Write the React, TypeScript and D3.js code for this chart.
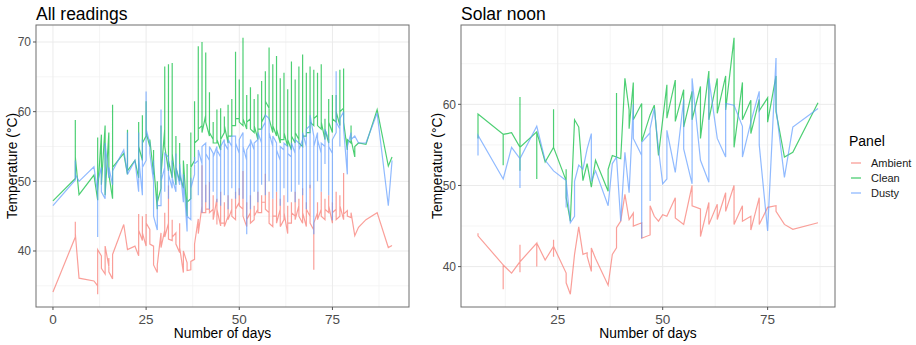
import React from 'react';
import * as d3 from 'd3';

// "All readings" panel: one entry per day, each day can hold several readings
const allDays = [0, 6, 7, 11, 12, 13, 14, 15, 16, 19, 20, 22,
  23, 24, 25, 26, 27, 28, 29, 30, 31, 32,
  33, 34, 35, 36, 37, 38, 39, 40, 41, 42,
  43, 44, 45, 46, 47, 48, 49, 50, 51, 52,
  53, 54, 55, 56, 57, 58, 59, 60, 61, 62,
  63, 64, 65, 66, 67, 68, 69, 70, 71, 72,
  73, 74, 75, 76, 77, 78, 79, 80, 81, 82,
  84, 87, 90, 91];

const allAmbient = [
  [34.1], [42.0, 44.2, 42.5], [36.1], [35.7], [35.0, 33.8, 40.2], [39.3, 37.5], [36.7, 40.7], [37.8, 39.0, 37.0], [36.0, 39.5], [43.8], [40.2], [40.7],
  [39.3, 45.3, 43.0], [41.5, 45.0, 42.6], [40.7, 45.3, 44.0], [43.1, 41.0], [40.7, 38.0], [36.9, 38.0], [42.6, 40.5], [43.0, 45.5, 42.0], [44.0, 49.4, 41.7], [41.5, 44.5, 42.0],
  [42.6, 41.0], [39.8, 44.0, 40.5], [36.9, 40.0], [38.3, 37.2], [37.3, 38.5], [38.8, 41.0], [44.6, 42.5], [46.5, 52.3, 45.5], [45.5, 49.5, 46.0], [46.0, 49.9, 45.5],
  [46.0, 48.0, 44.5], [47.5, 43.8, 46.0], [43.6, 48.5, 44.0], [44.0, 47.0, 43.5], [45.0, 48.0, 44.5], [46.0, 47.5, 45.0], [44.5, 48.5, 46.0], [47.0, 49.0, 46.5], [46.0, 51.5, 45.0], [43.5, 47.0, 44.5],
  [45.5, 48.0, 44.0], [44.5, 46.5, 45.0], [46.0, 48.5, 45.5], [45.5, 48.0, 47.0], [47.0, 51.1, 46.0], [45.5, 48.5, 44.0], [43.5, 47.5, 45.0], [45.0, 48.5, 44.0], [46.0, 47.5, 43.5], [44.5, 48.0, 45.5],
  [42.5, 46.5, 44.0], [44.0, 47.0, 45.5], [45.0, 48.5, 44.5], [46.5, 47.5, 45.0], [44.0, 49.0, 45.5], [43.5, 47.0, 46.0], [45.0, 49.5, 44.0], [43.0, 37.3, 44.0], [45.5, 47.0, 44.5], [46.0, 48.5, 45.0],
  [44.5, 47.5, 46.0], [45.5, 48.0, 46.5], [44.0, 47.0, 45.5], [46.0, 48.5, 44.5], [45.0, 48.0, 46.5], [44.5, 51.2, 45.3], [45.8, 45.0], [44.8, 45.5], [42.2], [43.4],
  [44.5], [45.5], [40.5], [40.8],
];

const allClean = [
  [47.2], [50.4, 58.8, 53.5], [48.1], [50.9], [47.3, 56.3, 48.5], [56.7, 49.5], [58.0, 48.0], [57.0, 51.0], [47.5, 61.0, 52.0], [54.0], [51.0, 57.4, 51.5], [53.0],
  [50.5, 58.5, 55.0], [53.0, 59.5, 55.5], [56.5, 61.5, 57.0], [55.0, 56.0], [51.0, 54.5, 52.5], [46.0, 50.0, 47.0], [49.0, 58.0, 51.0], [57.5, 66.5, 55.0], [51.5, 66.8, 53.0], [50.5, 67.0, 54.0],
  [49.5, 56.5, 52.0], [50.0, 55.5, 51.0], [49.0, 53.0], [45.0, 52.5, 47.0], [47.5, 57.0, 52.0], [53.0, 61.5, 55.5], [56.0, 69.4, 57.5], [58.0, 70.0, 57.0], [59.5, 68.5, 58.5], [56.5, 62.8, 57.0],
  [56.0, 58.5, 55.5], [55.5, 60.3, 56.0], [54.5, 60.5, 56.0], [57.0, 59.3, 58.0], [55.5, 61.0, 56.5], [56.5, 61.8, 58.0], [58.0, 68.6, 59.0], [59.0, 64.6, 58.5], [58.0, 70.6, 59.0], [57.5, 62.4, 58.5],
  [59.0, 63.5, 57.5], [57.0, 61.8, 58.0], [56.0, 62.5, 57.5], [57.5, 64.4, 58.5], [59.5, 65.8, 61.5], [60.5, 69.2, 59.0], [57.0, 66.8, 58.0], [56.5, 68.0, 57.5], [55.5, 64.8, 56.0], [56.0, 65.6, 57.0],
  [55.0, 63.2, 56.0], [54.5, 67.2, 56.5], [55.5, 64.6, 57.0], [56.0, 66.5, 55.5], [55.0, 68.2, 56.5], [56.5, 65.6, 57.0], [57.0, 66.5, 58.5], [58.0, 66.0, 59.0], [59.5, 65.6, 58.0], [57.5, 66.8, 58.5],
  [56.0, 59.0, 57.5], [55.5, 61.8, 58.5], [57.0, 62.4, 59.0], [58.5, 62.4, 60.0], [58.0, 66.0, 60.0], [60.5, 66.2, 58.5], [54.5, 56.0], [55.5, 58.0, 56.0], [53.5, 55.0], [55.5],
  [55.3], [60.3], [52.2], [53.5],
];

const allDusty = [
  [46.5], [50.2, 53.0, 51.0], [50.0], [52.1], [48.3, 42.0, 50.0], [52.0, 48.5], [47.5, 55.5], [50.5, 52.0], [49.5, 51.5], [54.5], [51.0, 57.0, 51.0], [53.0],
  [48.5, 57.0, 53.5], [48.0, 56.0, 52.0], [53.0, 62.9, 57.5], [55.5, 54.0], [50.0, 53.0, 45.0], [43.0, 48.0, 46.5], [46.5, 60.3, 50.0], [52.0, 48.5, 54.0], [53.5, 47.5, 51.0], [49.0, 53.0, 50.5],
  [48.5, 54.0, 52.0], [49.5, 52.5], [47.0, 51.0], [42.8, 47.5, 45.0], [44.5, 50.5, 49.0], [51.0, 53.5, 52.5], [53.0, 48.0, 54.5], [52.5, 45.5, 55.0], [55.5, 47.0, 54.0], [53.0, 46.0, 55.0],
  [54.0, 48.5, 53.5], [55.0, 47.0, 54.5], [53.5, 46.5, 55.0], [56.0, 48.0, 55.5], [54.5, 46.0, 56.0], [55.0, 49.0, 56.5], [56.5, 47.5, 55.5], [54.0, 48.0, 56.0], [57.0, 47.5, 55.0], [53.0, 42.4, 54.5],
  [55.5, 46.0, 56.0], [54.5, 48.5, 55.5], [56.0, 47.0, 57.0], [55.5, 49.5, 57.5], [58.5, 48.0, 59.5], [59.0, 50.0, 57.0], [55.0, 47.5, 56.5], [55.5, 48.5, 54.5], [53.0, 46.5, 55.0], [54.5, 49.0, 55.5],
  [55.0, 47.0, 54.0], [53.5, 48.5, 55.5], [54.0, 47.0, 56.0], [55.5, 49.5, 54.5], [56.0, 48.0, 57.0], [55.0, 46.0, 57.5], [58.0, 49.0, 59.5], [56.5, 42.4, 55.0], [57.0, 50.0, 56.0], [54.0, 48.5, 55.5],
  [55.0, 52.5, 57.5], [56.0, 48.0, 55.0], [54.0, 44.4, 56.0], [57.0, 65.8, 58.5], [57.5, 55.0, 59.0], [60.0, 57.5], [51.0, 55.0], [57.0, 56.0], [56.5], [55.5],
  [55.5], [59.8], [46.5], [53.0],
];

// "Solar noon" panel
const noonDays = [6, 12, 14, 16, 20, 22, 24,
  27, 28, 29, 30, 31, 32, 33, 34,
  37, 38, 39, 40, 41, 42, 43,
  45, 47, 48, 49, 50, 51,
  53, 55, 57, 59, 61, 63, 65, 67, 69, 71, 73, 75, 77, 79, 81,
  87];

const noonAmbient = [
  [44.1, 43.8], [40.2, 37.2, 40.2], [39.2], [40.6, 42.7, 39.3, 40.6], [42.9, 40.0, 42.9], [40.8], [42.5, 43.3, 41.2, 42.5],
  [39.2, 38.0], [36.6], [41.5], [44.9], [41.5], [41.7, 41.3], [39.4, 42.3], [41.0],
  [37.7], [41.5], [42.3, 44.8], [45.6], [48.9], [45.8], [46.6, 45.0],
  [45.4, 43.5], [43.9, 47.5], [46.2], [45.6], [46.4], [46.2],
  [48.5, 46.0], [45.2], [50.0, 47.5], [47.1, 43.7], [47.9, 45.2], [47.7, 45.8], [49.1, 46.8], [50.0, 45.2], [47.5, 45.6], [46.2, 44.5], [48.5, 45.2], [47.3], [47.5, 46.8], [45.2], [44.6],
  [45.4],
];

const noonClean = [
  [55.8, 58.8], [56.3, 52.5, 56.3], [56.5], [54.7, 60.9, 51.8, 54.7], [56.6, 50.8, 56.6], [52.9], [54.7, 59.4, 54.7],
  [50.6, 52.0, 48.5], [45.6], [58.1], [57.2], [50.6], [52.7], [49.8], [53.1],
  [49.3, 52.0], [53.7], [53.5, 61.4, 53.5], [53.3], [63.2], [59.3, 57.0], [62.7, 58.1],
  [60.1, 55.4], [58.7], [59.9], [53.7], [58.1], [62.4, 58.3],
  [63.0, 57.9], [61.8, 57.2], [61.6, 58.1], [62.2, 55.8], [64.1, 58.1], [63.2, 58.9], [63.5, 59.3], [68.2, 54.7], [62.7, 58.1], [60.5, 56.4], [60.6, 59.2], [60.8, 57.8], [63.5, 59.1], [53.5], [54.1],
  [60.2],
];

const noonDusty = [
  [53.7, 56.2], [50.8], [54.7], [53.3, 49.7, 53.3], [57.3], [53.1], [51.8],
  [50.6, 47.3, 50.6], [45.4], [46.2, 50.5], [52.5], [52.0], [54.5], [56.4, 50.5], [51.8],
  [47.5], [52.7], [53.5], [45.6], [54.1], [49.1], [60.0, 55.8],
  [53.7, 43.5, 55.3], [56.5, 48.1, 57.0], [59.5], [54.5], [50.2], [50.8, 56.8],
  [51.6], [60.6, 54.5], [50.2, 63.2], [53.1], [50.4, 63.2], [55.8], [53.5, 60.1], [59.9], [57.3, 53.5], [57.8], [61.6, 55.0], [44.4], [65.7, 59.5], [51.0], [57.2],
  [59.5],
];

const panelNames = ['Ambient', 'Clean', 'Dusty'];
const panelColors = ['#F8766D', '#00BA38', '#619CFF'];

const font = 'Liberation Sans, Arial, Helvetica, sans-serif';

type Pt = [number, number];

function toPoints(days: number[], vals: number[][]): Pt[] {
  const out: Pt[] = [];
  days.forEach((d, i) => vals[i].forEach(v => out.push([d, v])));
  return out;
}

function expand(ext: [number, number]): [number, number] {
  const s = ext[1] - ext[0];
  return [ext[0] - s * 0.05, ext[1] + s * 0.05];
}

function minorTicks(major: number[], domain: [number, number]) {
  const step = major[1] - major[0];
  const res: number[] = [];
  for (let t = major[0] - step / 2; t <= domain[1]; t += step) {
    if (t >= domain[0]) res.push(t);
  }
  return res;
}

function Panel(props: {
  title: string; left: number; right: number; top: number; bottom: number;
  days: number[]; series: number[][][]; xTicks: number[]; yTicks: number[];
}) {
  const { title, left, right, top, bottom, days, series, xTicks, yTicks } = props;
  const lines = series.map(s => toPoints(days, s));
  const all = lines.flat();
  const xDom = expand(d3.extent(all, p => p[0]) as [number, number]);
  const yDom = expand(d3.extent(all, p => p[1]) as [number, number]);
  const x = d3.scaleLinear().domain(xDom).range([left, right]);
  const y = d3.scaleLinear().domain(yDom).range([bottom, top]);
  const line = d3.line<Pt>().x(p => x(p[0])).y(p => y(p[1]));

  return (
    <g>
      <rect x={left} y={top} width={right - left} height={bottom - top} fill="#fff" />
      {minorTicks(xTicks, xDom).map(t => (
        <line key={'mx' + t} x1={x(t)} x2={x(t)} y1={top} y2={bottom} stroke="#f3f3f3" strokeWidth={0.8} />
      ))}
      {minorTicks(yTicks, yDom).map(t => (
        <line key={'my' + t} x1={left} x2={right} y1={y(t)} y2={y(t)} stroke="#f3f3f3" strokeWidth={0.8} />
      ))}
      {xTicks.map(t => (
        <line key={'gx' + t} x1={x(t)} x2={x(t)} y1={top} y2={bottom} stroke="#ebebeb" strokeWidth={1} />
      ))}
      {yTicks.map(t => (
        <line key={'gy' + t} x1={left} x2={right} y1={y(t)} y2={y(t)} stroke="#ebebeb" strokeWidth={1} />
      ))}
      {lines.map((pts, i) => (
        <path key={panelNames[i]} d={line(pts) || ''} fill="none" stroke={panelColors[i]}
          strokeOpacity={0.7} strokeWidth={1.2} />
      ))}
      <rect x={left} y={top} width={right - left} height={bottom - top} fill="none" stroke="#6e6e6e" strokeWidth={1} />
      {xTicks.map(t => (
        <g key={'tx' + t}>
          <line x1={x(t)} x2={x(t)} y1={bottom} y2={bottom + 3} stroke="#555" />
          <text x={x(t)} y={324} textAnchor="middle" fontSize={13.5} fill="#4d4d4d">{t}</text>
        </g>
      ))}
      {yTicks.map(t => (
        <g key={'ty' + t}>
          <line x1={left - 3} x2={left} y1={y(t)} y2={y(t)} stroke="#555" />
          <text x={left - 5} y={y(t)} dy="0.35em" textAnchor="end" fontSize={12} fill="#4d4d4d">{t}</text>
        </g>
      ))}
      <text x={left} y={20} fontSize={17.5} fill="#000">{title}</text>
      <text x={(left + right) / 2} y={337.5} textAnchor="middle" fontSize={13.8} fill="#000">Number of days</text>
      <text transform={`translate(${left - 19},${(top + bottom) / 2}) rotate(-90)`} textAnchor="middle"
        fontSize={13.8} fill="#000">Temperature (°C)</text>
    </g>
  );
}

export default function App() {
  return (
    <svg width={916} height={345} style={{ position: 'absolute', left: 0, top: 0, background: '#fff' }}
      fontFamily={font}>
      <rect width={916} height={345} fill="#fff" />
      <Panel title="All readings" left={36} right={409} top={25} bottom={307}
        days={allDays} series={[allAmbient, allClean, allDusty]}
        xTicks={[0, 25, 50, 75]} yTicks={[40, 50, 60, 70]} />
      <Panel title="Solar noon" left={461} right={835} top={25} bottom={307}
        days={noonDays} series={[noonAmbient, noonClean, noonDusty]}
        xTicks={[25, 50, 75]} yTicks={[40, 50, 60]} />
      <g>
        <text x={849} y={146} fontSize={14} fill="#000">Panel</text>
        {panelNames.map((n, i) => (
          <g key={n}>
            <line x1={851} x2={861} y1={163 + i * 15} y2={163 + i * 15} stroke={panelColors[i]}
              strokeOpacity={0.7} strokeWidth={1.3} />
            <text x={871} y={163 + i * 15} dy="0.35em" fontSize={11} fill="#1a1a1a">{n}</text>
          </g>
        ))}
      </g>
    </svg>
  );
}
